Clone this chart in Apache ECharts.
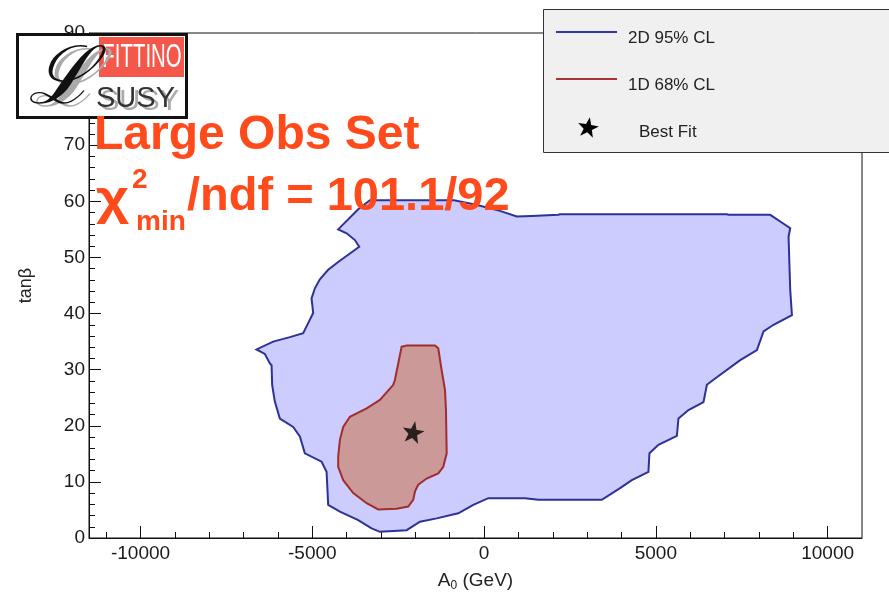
<!DOCTYPE html>
<html>
<head>
<meta charset="utf-8">
<script src="https://cdn.jsdelivr.net/npm/echarts@6/dist/echarts.min.js"></script>
<style>html,body{margin:0;padding:0;background:#fff;}#c{width:889px;height:594px;}</style>
</head>
<body>
<div id="c"></div>
<script>
// ---- data (A0 in GeV, tan beta) ----
const contour95 = [
  [-3664,58.6],[-3323,60.2],[-876,60.2],[-235,59.4],[464,58.3],[950,57.3],[1387,57.4],[2162,57.6],
  [2211,57.7],[7067,57.7],[7114,57.6],[8329,57.6],[8620,56.4],[8911,55.2],[8862,53.7],[8911,44.2],
  [8961,39.7],[8425,38.0],[8134,36.8],[7941,33.5],[7455,31.7],[6677,28.2],[6485,27.3],[6386,24.2],
  [5949,22.8],[5658,21.3],[5611,18.2],[5075,16.6],[4813,15.1],[4784,11.8],[4300,10.3],[3959,8.9],
  [3426,6.8],[1579,6.8],[1192,7.1],[123,7.1],[-314,5.9],[-751,4.4],[-1380,3.5],[-1867,2.9],
  [-2254,1.4],[-3032,1.1],[-3274,1.7],[-3664,3.2],[-4197,4.7],[-4538,5.9],[-4585,11.8],[-4730,13.6],
  [-5217,15.1],[-5362,18.1],[-5557,19.8],[-5945,21.3],[-6091,24.3],[-6169,27.3],[-6186,30.8],
  [-6236,31.1],[-6382,32.8],[-6624,33.6],[-6140,35.0],[-5654,35.8],[-5266,36.5],[-5121,38.3],
  [-4975,40.1],[-5022,42.7],[-4925,44.5],[-4780,46.1],[-4538,47.8],[-4247,49.2],[-3906,50.7],
  [-3635,51.9],[-3760,53.1],[-4002,54.3],[-4247,55.0]
];
const contour68 = [
  [-2400,34.1],[-2254,34.3],[-1430,34.3],[-1334,33.8],[-1235,29.9],[-1138,26.4],[-1109,22.8],
  [-1089,15.1],[-1188,12.7],[-1334,11.5],[-1672,10.6],[-1916,9.5],[-2012,8.3],[-2062,6.8],
  [-2208,5.6],[-2545,5.2],[-3081,5.1],[-3419,6.2],[-3810,8.0],[-4101,10.3],[-4247,12.7],
  [-4247,14.5],[-4197,17.5],[-4101,19.8],[-3906,21.6],[-3419,23.1],[-3032,24.6],[-2644,27.3],
  [-2595,28.2],[-2499,31.1]
];
const bestFit = [[-2062,18.9]];
const xMajorTicks = [-10000,-5000,0,5000,10000];
const xMinorTicks = [-11000,-9000,-8000,-7000,-6000,-4000,-3000,-2000,-1000,1000,2000,3000,4000,6000,7000,8000,9000];
const legendLabels = ['2D 95% CL','1D 68% CL','Best Fit'];

const STAR = 'path://M0,-10 L2.35,-3.24 L9.51,-3.09 L3.80,1.24 L5.88,8.09 L0,4 L-5.88,8.09 L-3.80,1.24 L-9.51,-3.09 L-2.35,-3.24 Z';
const FONT = 'Liberation Sans';
const ORANGE = '#ff4a1c';

function starPoints(cx, cy, R, r, rot) {
  const pts = [];
  for (let i = 0; i < 10; i++) {
    const a = -Math.PI / 2 + rot + i * Math.PI / 5;
    const rr = i % 2 === 0 ? R : r;
    pts.push([cx + rr * Math.cos(a), cy + rr * Math.sin(a)]);
  }
  return pts;
}

function polySeries(name, pts, fill, stroke) {
  return {
    name: name, type: 'custom', data: [pts[0]], z: 2,
    renderItem: function (params, api) {
      return {
        type: 'polygon',
        shape: { points: pts.map(p => api.coord(p)) },
        style: { fill: fill, stroke: stroke, lineWidth: 2 }
      };
    }
  };
}

const plain = v => String(v);

const chart = echarts.init(document.getElementById('c'), null, { renderer: 'canvas' });
chart.setOption({
  animation: false,
  backgroundColor: '#ffffff',
  grid: { left: 89, right: 27, top: 33, bottom: 56, outerBoundsMode: 'none', containLabel: false,
          show: true, borderColor: '#111', borderWidth: 1, backgroundColor: 'transparent' },
  xAxis: [{
    type: 'value', min: -11500, max: 11000, position: 'bottom',
    name: 'A{sub|0} (GeV)', nameLocation: 'middle', nameGap: 32,
    nameTextStyle: { fontFamily: FONT, fontSize: 19, color: '#222', rich: { sub: { fontFamily: FONT, fontSize: 12, color: '#222', verticalAlign: 'bottom', padding: [10, 0, 0, 0] } } },
    axisLine: { show: true, onZero: false, lineStyle: { color: '#111', width: 1 } },
    axisTick: { show: true, inside: true, length: 12, customValues: xMajorTicks, lineStyle: { color: '#111' } },
    axisLabel: { show: true, customValues: xMajorTicks, formatter: plain, fontFamily: FONT, fontSize: 19, color: '#1a1a1a', margin: 6 },
    splitLine: { show: false }
  }, {
    type: 'value', min: -11500, max: 11000, position: 'bottom', gridIndex: 0,
    axisLine: { show: false, onZero: false },
    axisTick: { show: true, inside: true, length: 6, customValues: xMinorTicks, lineStyle: { color: '#111' } },
    axisLabel: { show: false },
    splitLine: { show: false }
  }],
  yAxis: {
    type: 'value', min: 0, max: 90, interval: 10,
    name: 'tanβ', nameLocation: 'middle', nameGap: 54, nameRotate: 90,
    nameTextStyle: { fontFamily: FONT, fontSize: 18, color: '#222' },
    axisLine: { show: true, onZero: false, lineStyle: { color: '#111', width: 1 } },
    axisTick: { show: true, inside: true, length: 12, lineStyle: { color: '#111' } },
    minorTick: { show: true, splitNumber: 5, length: 6, lineStyle: { color: '#111' } },
    axisLabel: { fontFamily: FONT, fontSize: 19, color: '#1a1a1a', margin: 4, formatter: plain },
    splitLine: { show: false }
  },
  series: [
    polySeries(legendLabels[0], contour95, '#ccccff', '#2e3196'),
    polySeries(legendLabels[1], contour68, '#cc9999', '#a12d2d'),
    { name: legendLabels[2], type: 'scatter', data: bestFit, symbol: STAR, symbolSize: [22, 22], symbolRotate: -10,
      itemStyle: { color: '#000' }, z: 5 }
  ],
  graphic: [
    // legend box
    { type: 'rect', z: 100, shape: { x: 543.5, y: 9.5, width: 360, height: 143 }, style: { fill: '#f0f0f0', stroke: '#333', lineWidth: 1 } },
    { type: 'line', z: 101, shape: { x1: 556, y1: 32, x2: 617, y2: 32 }, style: { stroke: '#3333aa', lineWidth: 2 } },
    { type: 'text', z: 101, x: 628, y: 38, style: { text: legendLabels[0], font: '17px "Liberation Sans"', fill: '#222', verticalAlign: 'middle' } },
    { type: 'line', z: 101, shape: { x1: 556, y1: 79, x2: 617, y2: 79 }, style: { stroke: '#aa3333', lineWidth: 2 } },
    { type: 'text', z: 101, x: 628, y: 85, style: { text: legendLabels[1], font: '17px "Liberation Sans"', fill: '#222', verticalAlign: 'middle' } },
    { type: 'polygon', z: 101, shape: { points: starPoints(588, 128, 11, 4.4, 0.17) }, style: { fill: '#000' } },
    { type: 'text', z: 101, x: 639, y: 132, style: { text: legendLabels[2], font: '17px "Liberation Sans"', fill: '#222', verticalAlign: 'middle' } },
    // logo
    { type: 'rect', z: 110, shape: { x: 17.5, y: 34.5, width: 169, height: 83 }, style: { fill: '#fff', stroke: '#111', lineWidth: 3 } },
    { type: 'rect', z: 111, shape: { x: 99, y: 37, width: 85, height: 40 }, style: { fill: '#f5584a' } },
    { type: 'text', z: 112, x: 142, y: 58, scaleX: 0.6, originX: 0, originY: 0,
      style: { text: 'FITTINO', font: '34px "Liberation Sans"', fill: '#fff', align: 'center', verticalAlign: 'middle' } },
    { type: 'text', z: 112, x: 100, y: 102, style: { text: 'SUSY', font: '29px "Liberation Sans"', fill: '#aaa', align: 'left', verticalAlign: 'middle' } },
    { type: 'text', z: 113, x: 96, y: 99, style: { text: 'SUSY', font: '29px "Liberation Sans"', fill: '#333', align: 'left', verticalAlign: 'middle' } },
    { type: 'text', z: 112, x: 34, y: 85, style: { text: 'ℒ', font: 'italic 80px "DejaVu Serif"', fill: '#aaa', align: 'left', verticalAlign: 'middle' } },
    { type: 'text', z: 113, x: 28, y: 82, style: { text: 'ℒ', font: 'italic 80px "DejaVu Serif"', fill: '#111', align: 'left', verticalAlign: 'middle' } },
    // title texts
    { type: 'text', z: 120, x: 94, y: 112, style: { text: 'Large Obs Set', font: 'bold 48px "Liberation Sans"', fill: ORANGE, verticalAlign: 'top' } },
    { type: 'text', z: 120, x: 96, y: 177, scaleX: 1.2, originX: 0, originY: 0, style: { text: 'χ', font: 'bold 48px "Liberation Sans"', fill: ORANGE, verticalAlign: 'top' } },
    { type: 'text', z: 120, x: 132, y: 166, style: { text: '2', font: 'bold 28px "Liberation Sans"', fill: ORANGE, verticalAlign: 'top' } },
    { type: 'text', z: 120, x: 136, y: 208, style: { text: 'min', font: 'bold 28px "Liberation Sans"', fill: ORANGE, verticalAlign: 'top' } },
    { type: 'text', z: 120, x: 187, y: 174, style: { text: '/ndf = 101.1/92', font: 'bold 47px "Liberation Sans"', fill: ORANGE, verticalAlign: 'top' } }
  ]
});
</script>
</body>
</html>
